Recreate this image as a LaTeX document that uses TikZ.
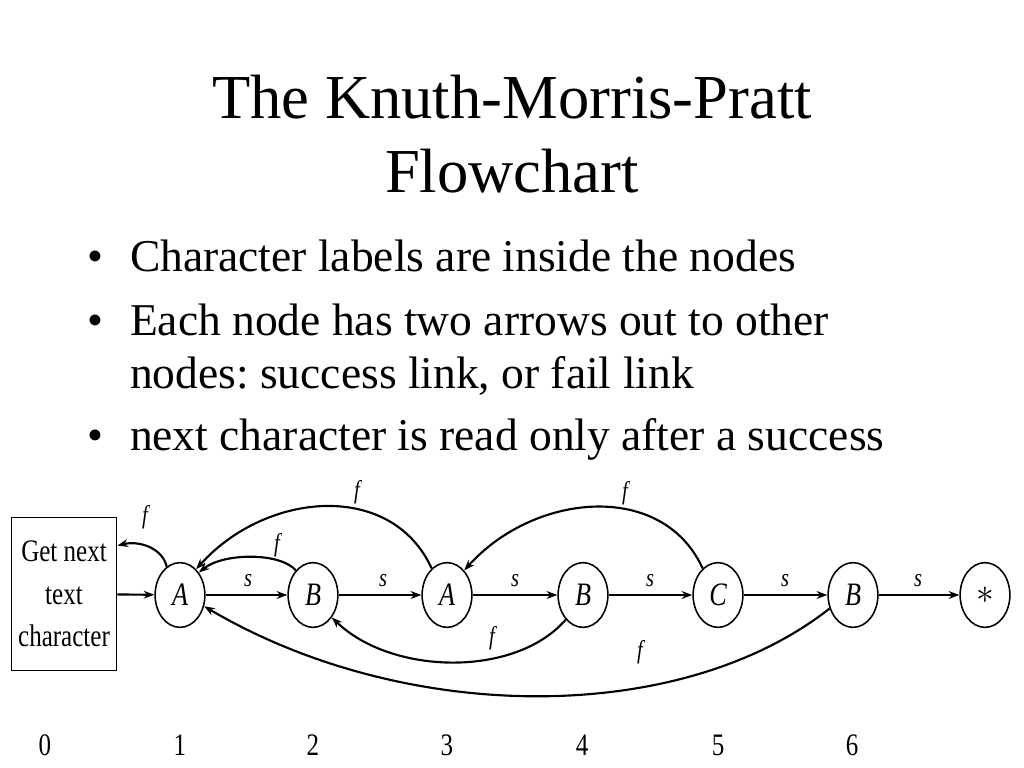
\documentclass[tikz,border=0pt]{standalone}
\usepackage{fontspec}
\setmainfont{Liberation Serif}
\newfontfamily\scanfont[FakeStretch=0.8]{Liberation Serif}
\usetikzlibrary{shapes.geometric,arrows.meta}
\frenchspacing

\begin{document}
\begin{tikzpicture}[
    x=0.703125pt, y=-0.703125pt,
    headline/.style={anchor=base, font=\fontsize{44}{52}\selectfont},
    point/.style={anchor=base west, font=\fontsize{32}{38}\selectfont},
    dot/.style={anchor=base, font=\fontsize{32}{38}\selectfont},
    readbox/.style={draw, rectangle, line width=1.1pt, minimum width=74pt, minimum height=107.5pt, align=center, font=\scanfont\fontsize{22}{30}\selectfont},
    charnode/.style={draw, ellipse, line width=1.1pt, minimum width=35pt, minimum height=45.5pt, inner sep=0pt, font=\scanfont\itshape\fontsize{23}{24}\selectfont},
    link/.style={-{Stealth[length=7.5pt,width=5.5pt]}, line width=1.5pt},
    lbl/.style={inner sep=0pt, font=\scanfont\itshape\fontsize{18}{20}\selectfont},
    idx/.style={font=\scanfont\fontsize{22}{24}\selectfont}
]
\useasboundingbox (0,0) rectangle (1024,768);

% Title
\node[headline] (t1) at (512,119) {The Knuth-Morris-Pratt};
\node[headline] (t2) at (512,193) {Flowchart};

% Bullet points
\node[dot] (d1) at (95,272) {\textbullet};
\node[point] (p1) at (125,272) {Character labels are inside the nodes};
\node[dot] (d2) at (95,336) {\textbullet};
\node[point] (p2) at (125,336) {Each node has two arrows out to other};
\node[point] (p3) at (125,388) {nodes: success link, or fail link};
\node[dot] (d3) at (95,450) {\textbullet};
\node[point] (p4) at (125,450) {next character is read only after a success};

% States
\node[readbox] (n0) at (64,594) {Get next\\text\\character};
\node[charnode] (n1) at (180,595) {A};
\node[charnode] (n2) at (313,595) {B};
\node[charnode] (n3) at (447,595) {A};
\node[charnode] (n4) at (583,595) {B};
\node[charnode] (n5) at (718,595) {C};
\node[charnode] (n6) at (853,595) {B};
\node[charnode] (n7) at (985,595) {$*$};

% Success links
\draw[link] (n0) -- (n1);
\draw[link] (n1) -- (n2);
\draw[link] (n2) -- (n3);
\draw[link] (n3) -- (n4);
\draw[link] (n4) -- (n5);
\draw[link] (n5) -- (n6);
\draw[link] (n6) -- (n7);

% Fail links
\draw[link] (n1.115) .. controls +(-5,-20) and +(20,-5) .. ([yshift=34pt]n0.east);
\draw[link] (n2.125) .. controls +(-15,-18) and +(25,-20) .. (n1.50);
\draw[link] (n3.120) .. controls +(-40,-88) and +(70,-78) .. (n1.58);
\draw[link] (n5.120) .. controls +(-40,-88) and +(70,-78) .. (n3.55);
\draw[link] (n4.235) .. controls +(-50,58) and +(60,58) .. (n2.-50);
\draw[link] (n6.210) .. controls +(-150,118) and +(200,118) .. (n1.-25);

% Link labels
\node[lbl] (l1) at (248,581) {s};
\node[lbl] (l2) at (383,581) {s};
\node[lbl] (l3) at (515,581) {s};
\node[lbl] (l4) at (650,581) {s};
\node[lbl] (l5) at (785,581) {s};
\node[lbl] (l6) at (918,581) {s};
\node[lbl] (f1) at (145,517) {f};
\node[lbl] (f2) at (277,545) {f};
\node[lbl] (f3) at (357,492) {f};
\node[lbl] (f4) at (625,493) {f};
\node[lbl] (f5) at (492,638) {f};
\node[lbl] (f6) at (640,652) {f};

% Indices
\node[idx] (i0) at (45,745) {0};
\node[idx] (i1) at (180,745) {1};
\node[idx] (i2) at (313,745) {2};
\node[idx] (i3) at (447,745) {3};
\node[idx] (i4) at (582,745) {4};
\node[idx] (i5) at (718,745) {5};
\node[idx] (i6) at (852,745) {6};

\end{tikzpicture}
\end{document}
